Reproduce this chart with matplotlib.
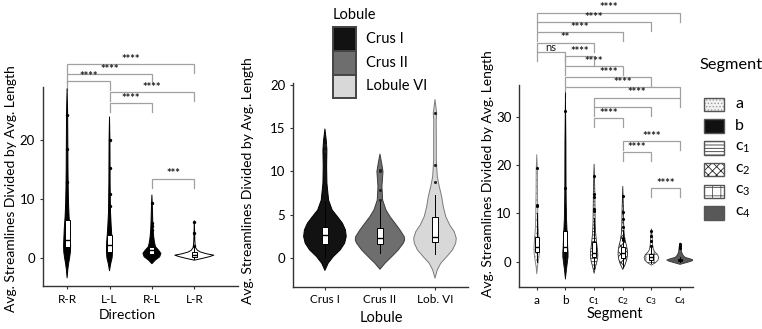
import matplotlib
matplotlib.use("Agg")
import matplotlib.pyplot as plt
import matplotlib.transforms as mtransforms
from matplotlib.patches import Rectangle

plt.rcParams["font.family"] = ["Lato", "DejaVu Sans"]
plt.rcParams["mathtext.default"] = "regular"
plt.rcParams["hatch.linewidth"] = 0.6

W, H = 762, 329
YLABEL = "Avg. Streamlines Divided by Avg. Length"

# ─── Direction ──────────────────────────────────────────────────────────────
dir_labels = ["R-R", "L-L", "R-L", "L-R"]
dir_vals = [
    [-3.4, -2, -1, 0, 1, 2, 3, 5, 7, 9, 12, 15, 20, 25, 28.8],
    [-2.2, -1, 0, 1, 2, 3, 4, 5.4, 7.7, 10, 13, 17, 20, 24],
    [-1.0, -0.4, 0.17, 0.75, 1.3, 1.9, 2.7, 3.6, 4.8, 5.9, 8, 10.7],
    [-0.4, -0.1, 0.2, 0.45, 0.7, 1.0, 1.3, 1.8, 3, 6.3],
]
dir_halfw = [
    [0, .017, .035, .059, .078, .083, .078, .066, .047, .035, .026, .021, .017, .012, 0],
    [0, .028, .061, .071, .071, .064, .052, .040, .024, .019, .014, .012, .010, 0],
    [0, .078, .182, .212, .158, .083, .059, .042, .028, .021, .014, 0],
    [0, .189, .354, .460, .283, .142, .071, .024, .012, 0],
]
dir_box = [(1.9, 3.1, 6.4), (1.0, 2.2, 3.9), (0.7, 1.3, 1.9), (0.1, 0.5, 1.0)]
dir_whisk = [(-0.5, 11.0), (-1.0, 7.5), (-0.5, 3.0), (-0.2, 1.6)]
dir_points = [[24.3, 18.5, 13.0], [20.0, 15.3, 10.8, 8.8], [9.4, 6.0, 5.4, 4.8], [6.1, 4.3, 2.0]]
dir_pairs = [(0, 3, "****"), (0, 2, "****"), (0, 1, "****"),
             (1, 3, "****"), (1, 2, "****"), (2, 3, "***")]
dir_bracket_y = [33.0, 31.3, 30.15, 28.2, 26.4, 13.5]

# ─── Lobule ─────────────────────────────────────────────────────────────────
lob_labels = ["Crus I", "Crus II", "Lob. VI"]
lob_names = ["Crus I", "Crus II", "Lobule VI"]
lob_vals = [
    [-1.4, -0.58, 0.18, 0.96, 1.73, 2.5, 3.26, 4.04, 4.8, 5.57, 6.7, 8.65, 10.6, 12.5, 13.6, 14.9],
    [-1.27, -0.58, 0.18, 0.96, 1.73, 2.1, 2.5, 3.26, 4.04, 4.8, 5.57, 6.7, 8.26, 10.0, 10.96, 12.0],
    [-2.3, -1.35, -0.58, 0.18, 0.96, 1.73, 2.3, 3.07, 3.84, 4.8, 5.95, 7.1, 8.26, 9.4, 11.3,
     13.6, 15.95, 16.7, 18.3],
]
lob_halfw = [
    [0, .058, .151, .278, .358, .387, .373, .318, .227, .131, .067, .036, .031, .036, .024, 0],
    [0, .091, .213, .333, .424, .449, .440, .364, .273, .182, .109, .049, .036, .055, .031, 0],
    [0, .042, .104, .213, .318, .376, .387, .349, .267, .196, .151, .122, .078, .042, .024,
     .024, .022, .031, 0],
]
lob_box = [(1.65, 2.69, 3.65), (1.61, 2.38, 3.53), (1.92, 2.5, 4.72)]
lob_whisk = [(0.2, 6.5), (0.57, 6.5), (0.5, 7.3)]
lob_points = [[12.4, 13.0], [6.7, 7.9, 10.0, 10.2], [8.8, 10.7, 16.7]]
lob_colors = ["#121212", "#6e6e6e", "#d8d8d8"]
lob_edges = ["#000000", "#3a3a3a", "#7a7a7a"]

# ─── Segment ────────────────────────────────────────────────────────────────
seg_labels = ["a", "b", "c$_1$", "c$_2$", "c$_3$", "c$_4$"]
seg_vals = [
    [-2.5, -1, 0, 1, 2, 3, 4, 5, 6, 8, 10, 12, 15, 19, 22.2],
    [-3.6, -2, 0, 1, 2, 3, 5, 7, 9, 12, 16, 25, 35],
    [-2.4, -1, 0, 1, 2, 3, 4.5, 6, 8, 11, 15, 20.2],
    [-1.6, -0.5, 0.5, 1.5, 2.5, 3.5, 4.5, 6, 8, 11, 15.6],
    [-0.7, -0.2, 0.3, 0.9, 1.5, 2, 2.5, 3.5, 5, 6.8],
    [-0.55, -0.2, 0.1, 0.35, 0.6, 0.9, 1.3, 2, 3, 3.9],
]
seg_halfw = [
    [0, .024, .052, .077, .094, .098, .087, .077, .059, .042, .035, .031, .024, .021, 0],
    [0, .028, .070, .091, .091, .080, .070, .052, .038, .028, .021, .017, 0],
    [0, .052, .098, .129, .126, .105, .077, .052, .038, .031, .024, 0],
    [0, .087, .140, .164, .157, .122, .080, .045, .031, .024, 0],
    [0, .140, .227, .255, .209, .122, .070, .042, .028, 0],
    [0, .209, .384, .464, .349, .174, .105, .052, .035, 0],
]
seg_box = [(2.1, 3.1, 5.2), (2.07, 3.0, 6.35), (0.9, 1.9, 4.14),
           (0.7, 1.9, 3.1), (0.35, 1.0, 1.6), (0.2, 0.4, 0.6)]
seg_whisk = [(0.0, 10.0), (-1.0, 12.0), (-1.5, 9.0), (-1.0, 6.5), (-0.3, 3.0), (0.0, 1.0)]
seg_points = [[19.4, 11.8, 11.5], [31.3, 15.3], [17.8, 14.0, 13.5, 11.0, 10.6],
              [13.6, 10.2, 8.8, 7.1, 5.0, 4.5], [6.3, 5.3, 4.3, 3.2], [3.6, 3.2, 2.8]]
seg_pairs = [(0, 5, "****"), (0, 4, "****"), (0, 3, "****"), (0, 2, "**"), (0, 1, "ns"),
             (1, 2, "****"), (1, 3, "****"), (1, 4, "****"), (1, 5, "****"),
             (2, 5, "****"), (2, 4, ""), (2, 3, "****"),
             (3, 5, "****"), (3, 4, "****"), (4, 5, "****")]
seg_bracket_y = [51.6, 49.7, 47.6, 45.4, 43.5, 42.65, 40.6, 38.3, 36.1,
                 34.0, 32.1, 29.75, 25.05, 22.8, 15.25]
# face, hatch, hatch colour, edge
seg_style = [
    ("#f2f2f2", ".....", "#9a9a9a", "#7a7a7a"),
    ("#111111", None, None, "#000000"),
    ("#ffffff", "-----", "#333333", "#333333"),
    ("#ffffff", "xxxx", "#222222", "#222222"),
    ("#ffffff", "++", "#555555", "#444444"),
    ("#585858", None, None, "#333333"),
]


# ─────────────────────────────────────────────────────────────────────────────

def axes_px(fig, left, top, right, bottom):
    return fig.add_axes([left / W, 1 - bottom / H, (right - left) / W, (bottom - top) / H])


def draw_violin(ax, pos, vals, halfw, face, edge, hatch=None, hatch_color=None, lw=0.8):
    left = [pos - w for w in halfw]
    right = [pos + w for w in halfw]
    ax.fill_betweenx(vals, left, right, facecolor=face, edgecolor="none", lw=0, zorder=2)
    if hatch:
        ax.fill_betweenx(vals, left, right, facecolor="none", edgecolor=hatch_color,
                         hatch=hatch, lw=0, zorder=2)
    ax.fill_betweenx(vals, left, right, facecolor="none", edgecolor=edge, lw=lw, zorder=3)


def draw_boxes(ax, boxes, whiskers, width):
    stats = [dict(q1=b[0], med=b[1], q3=b[2], whislo=w[0], whishi=w[1], fliers=[])
             for b, w in zip(boxes, whiskers)]
    ax.bxp(stats, positions=list(range(len(stats))), widths=width, showfliers=False,
           showcaps=False, patch_artist=True, manage_ticks=False,
           boxprops=dict(facecolor="white", edgecolor="black", lw=0.7),
           whiskerprops=dict(color="black", lw=0.7),
           medianprops=dict(color="black", lw=1.0), zorder=4)


def draw_points(ax, points, size=6, color="black"):
    for i, pts in enumerate(points):
        ax.scatter([i] * len(pts), pts, s=size, color=color, lw=0, zorder=5)


def draw_bracket(ax, x1, x2, y, label, leg):
    ax.plot([x1, x1, x2, x2], [y - leg, y, y, y - leg], color="#a0a0a0", lw=0.9,
            clip_on=False, zorder=1, solid_joinstyle="miter")
    if label:
        weight = "normal" if label == "ns" else "bold"
        trans = mtransforms.offset_copy(ax.transData, fig=ax.figure, y=0.8, units="points")
        ax.text((x1 + x2) / 2, y, label, ha="center", va="baseline", fontsize=8,
                fontweight=weight, color="#1a1a1a", transform=trans, clip_on=False)


def style_axes(ax, labels, xlim, ylim, yticks):
    ax.set_xlim(*xlim)
    ax.set_ylim(*ylim)
    ax.set_xticks(range(len(labels)))
    ax.set_xticklabels(labels, fontsize=8.5)
    ax.set_yticks(yticks)
    ax.tick_params(axis="y", labelsize=9.5, length=2.5, width=0.8, color="#333333", pad=3)
    ax.tick_params(axis="x", length=2.5, width=0.8, color="#333333", pad=3)
    ax.spines[["top", "right"]].set_visible(False)
    for s in ("left", "bottom"):
        ax.spines[s].set_color("#333333")
        ax.spines[s].set_linewidth(1.0)
    ax.set_facecolor("none")


def legend_key(fig, x0, y0, w, h, face, edge, hatch=None, hatch_color=None, lw=1.2):
    xy, fw, fh = (x0 / W, 1 - (y0 + h) / H), w / W, h / H
    fig.add_artist(Rectangle(xy, fw, fh, transform=fig.transFigure, facecolor=face,
                             edgecolor="none"))
    if hatch:
        fig.add_artist(Rectangle(xy, fw, fh, transform=fig.transFigure, facecolor="none",
                                 edgecolor=hatch_color, hatch=hatch, lw=0))
    fig.add_artist(Rectangle(xy, fw, fh, transform=fig.transFigure, facecolor="none",
                             edgecolor=edge, lw=lw))


fig = plt.figure(figsize=(W / 100, H / 100), dpi=100)

# Direction
ax1 = axes_px(fig, 42.5, 87, 238, 286)
for i in range(len(dir_labels)):
    face = "white" if i == 3 else "black"
    draw_violin(ax1, i, dir_vals[i], dir_halfw[i], face, "black", lw=0.7)
draw_boxes(ax1, dir_box, dir_whisk, 0.12)
draw_points(ax1, dir_points)
style_axes(ax1, dir_labels, (-0.58, 4.03), (-4.8, 29.1), [0, 10, 20])
leg1 = 0.045 * (29.1 + 4.8)
for (i, j, lab), y in zip(dir_pairs, dir_bracket_y):
    draw_bracket(ax1, i, j, y, lab, leg1)
ax1.set_xlabel("Direction", fontsize=10)
ax1.xaxis.set_label_coords(0.436, -0.115)
ax1.set_ylabel(YLABEL, fontsize=10)
ax1.yaxis.set_label_coords(-0.13, 0.49)

# Lobule
ax2 = axes_px(fig, 293, 83, 468, 286.7)
for i in range(len(lob_labels)):
    draw_violin(ax2, i, lob_vals[i], lob_halfw[i], lob_colors[i], lob_edges[i], lw=0.7)
draw_boxes(ax2, lob_box, lob_whisk, 0.1)
draw_points(ax2, lob_points, size=5, color="#222222")
style_axes(ax2, lob_labels, (-0.58, 2.6), (-3.28, 20.2), [0, 5, 10, 15, 20])
ax2.set_xlabel("Lobule", fontsize=10.5)
ax2.xaxis.set_label_coords(0.507, -0.118)
ax2.set_ylabel(YLABEL, fontsize=10)
ax2.yaxis.set_label_coords(-0.225, 0.52)

fig.text(333 / W, 1 - 15 / H, "Lobule", fontsize=10.5, ha="left", va="center")
for k, (name, col) in enumerate(zip(lob_names, lob_colors)):
    top = 27.3 + k * 23.6
    legend_key(fig, 333, top, 23, 23.6, col, "#444444", lw=1.4)
    fig.text(366 / W, 1 - (top + 11.8) / H, name, fontsize=10.5, ha="left", va="center")

# Segment
ax3 = axes_px(fig, 519, 85, 693, 287.3)
for i in range(len(seg_labels)):
    face, hatch, hcol, edge = seg_style[i]
    draw_violin(ax3, i, seg_vals[i], seg_halfw[i], face, edge, hatch, hcol, lw=0.6)
draw_boxes(ax3, seg_box, seg_whisk, 0.14)
draw_points(ax3, seg_points, size=5)
style_axes(ax3, seg_labels, (-0.62, 5.45), (-5.3, 36.6), [0, 10, 20, 30])
leg3 = 0.045 * (36.6 + 5.3)
for (i, j, lab), y in zip(seg_pairs, seg_bracket_y):
    draw_bracket(ax3, i, j, y, lab, leg3)
ax3.set_xlabel("Segment", fontsize=10.5)
ax3.xaxis.set_label_coords(0.552, -0.098)
ax3.set_ylabel(YLABEL, fontsize=10)
ax3.yaxis.set_label_coords(-0.145, 0.56)

fig.text(700 / W, 1 - 65 / H, "Segment", fontsize=11.8, ha="left", va="center")
for k, lab in enumerate(seg_labels):
    face, hatch, hcol, _ = seg_style[k]
    top = 97.7 + k * 21.7
    legend_key(fig, 704, top, 19.5, 13.5, face, "#555555", hatch, hcol, lw=1.0)
    fig.text(735 / W, 1 - (top + 6.75) / H, lab, fontsize=11.5, ha="left", va="center")

fig.savefig("out.png", dpi=100)
